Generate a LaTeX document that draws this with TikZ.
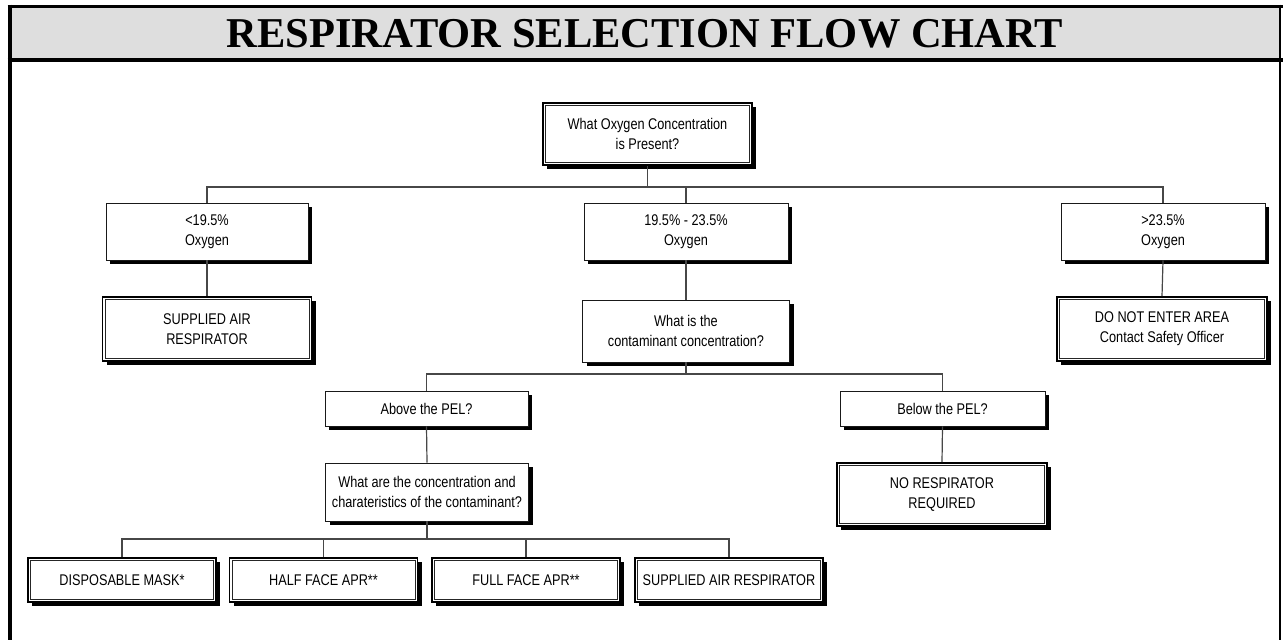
\documentclass[tikz,border=0pt]{standalone}
\usepackage{fontspec}
\setmainfont{Liberation Serif}
\newfontfamily\narrow[FakeStretch=0.82]{Liberation Sans}
\usetikzlibrary{shadows}
\tikzset{
  conn/.style={draw=black!72, line width=1.2pt},
  sbox/.style={draw=black!90, line width=0.9pt, fill=white, align=center, inner sep=0pt,
    font=\narrow\fontsize{15.5}{20}\selectfont,
    drop shadow={shadow xshift=4pt, shadow yshift=-4pt, fill=black, opacity=1}},
  dbox/.style={sbox, line width=1.6pt, draw=black},
  innerline/.style={draw=black!85, line width=0.8pt},
}
\newcommand{\innerframe}[1]{\draw[innerline] ([shift={(3.2pt,-3.2pt)}]#1.north west) rectangle ([shift={(-3.2pt,3.2pt)}]#1.south east);}
\begin{document}
\begin{tikzpicture}[x=1pt,y=-1pt]
\useasboundingbox (0,0) rectangle (1285,640);
% frame
\fill[black!13] (9.5,6.5) rectangle (1280,59.5);
\draw[line width=3.5pt] (7.5,6.5) -- (1283,6.5);
\draw[line width=4pt] (7.5,59.5) -- (1283,59.5);
\draw[line width=4pt] (9.5,4.5) -- (9.5,640);
\draw[line width=1.8pt] (1280,4.5) -- (1280,640);
\node[font=\bfseries\fontsize{42.5}{46}\selectfont] (title) at (645,34) {RESPIRATOR SELECTION FLOW CHART};

% level 1
\node[dbox, minimum width=209pt, minimum height=62pt] (top) at (647.5,134) {What Oxygen Concentration\\is Present?};
\innerframe{top}
% level 2
\node[sbox, minimum width=202pt, minimum height=57pt] (lo) at (207,231.5) {<19.5\%\\Oxygen};
\node[sbox, minimum width=204pt, minimum height=57pt] (mid) at (686,231.5) {19.5\% - 23.5\%\\Oxygen};
\node[sbox, minimum width=204pt, minimum height=57pt] (hi) at (1163,231.5) {>23.5\%\\Oxygen};
% level 3
\node[dbox, minimum width=209pt, minimum height=64pt] (sar) at (207,329) {SUPPLIED AIR\\RESPIRATOR};
\innerframe{sar}
\node[sbox, minimum width=207pt, minimum height=62pt] (cont) at (686,331) {What is the\\contaminant concentration?};
\node[dbox, minimum width=210pt, minimum height=64pt] (dne) at (1162,329) {DO NOT ENTER AREA\\Contact Safety Officer};
\innerframe{dne}
% level 4
\node[sbox, minimum width=203pt, minimum height=35pt] (above) at (426.5,408.5) {Above the PEL?};
\node[sbox, minimum width=205pt, minimum height=35pt] (below) at (942.5,408.5) {Below the PEL?};
% level 5
\node[sbox, minimum width=203pt, minimum height=58pt] (char) at (427,492) {What are the concentration and\\charateristics of the contaminant?};
\node[dbox, minimum width=210pt, minimum height=63pt] (nor) at (942,494.5) {NO RESPIRATOR\\REQUIRED};
\innerframe{nor}
% level 6
\node[dbox, minimum width=188pt, minimum height=44pt] (dm) at (122,580) {DISPOSABLE MASK*};
\innerframe{dm}
\node[dbox, minimum width=188pt, minimum height=44pt] (hf) at (323.5,580) {HALF FACE APR**};
\innerframe{hf}
\node[dbox, minimum width=188pt, minimum height=44pt] (ff) at (526,580) {FULL FACE APR**};
\innerframe{ff}
\node[dbox, minimum width=188pt, minimum height=44pt] (sa) at (729,580) {SUPPLIED AIR RESPIRATOR};
\innerframe{sa}

% connectors
\coordinate (b1) at (0,187);
\coordinate (b2) at (0,374);
\coordinate (b3) at (0,539);
\draw[conn] (top.south) -- (top.south |- b1);
\draw[conn] (lo.north) -- (lo.north |- b1) -- (hi.north |- b1) -- (hi.north);
\draw[conn] (mid.north) -- (mid.north |- b1);
\draw[conn] (lo.south) -- (sar.north);
\draw[conn] (mid.south) -- (cont.north);
\draw[conn] (hi.south) -- (dne.north);
\draw[conn] (cont.south) -- (cont.south |- b2);
\draw[conn] (above.north) -- (above.north |- b2) -- (below.north |- b2) -- (below.north);
\draw[conn] (above.south) -- (char.north);
\draw[conn] (below.south) -- (nor.north);
\draw[conn] (char.south) -- (char.south |- b3);
\draw[conn] (dm.north) -- (dm.north |- b3) -- (sa.north |- b3) -- (sa.north);
\draw[conn] (hf.north) -- (hf.north |- b3);
\draw[conn] (ff.north) -- (ff.north |- b3);
\end{tikzpicture}
\end{document}
